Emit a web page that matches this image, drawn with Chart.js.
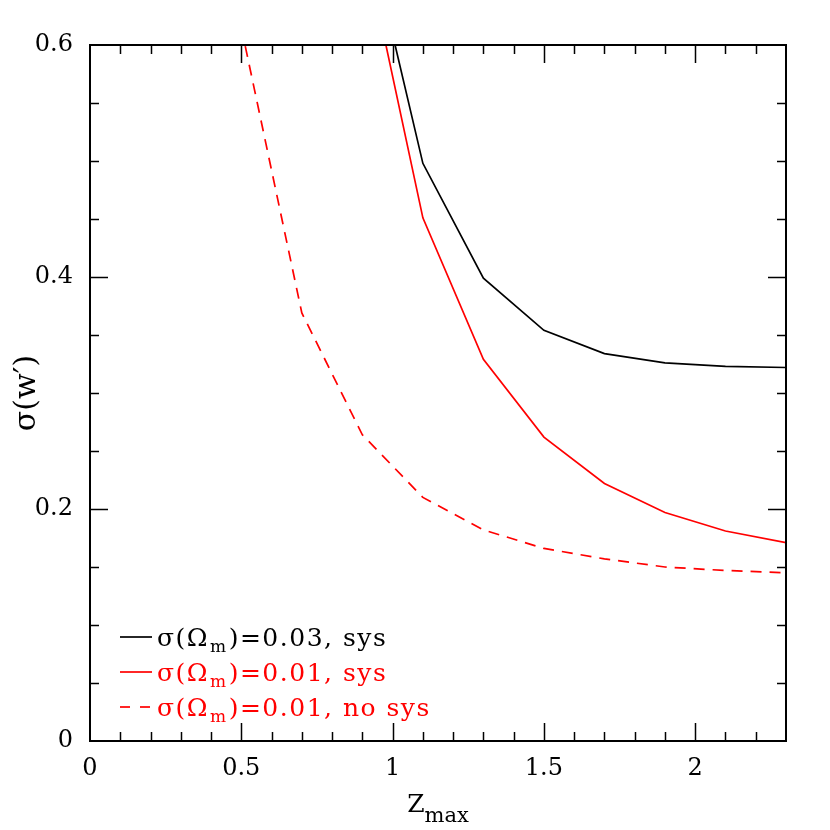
<!DOCTYPE html>
<html><head><meta charset="utf-8">
<script src="https://cdn.jsdelivr.net/npm/chart.js@4/dist/chart.umd.min.js"></script>
<style>html,body{margin:0;padding:0;background:#fff}#wrap{width:830px;height:830px}</style>
</head><body><div id="wrap"><canvas id="c" width="830" height="830"></canvas></div>
<script>
// ---- data ----
const zmax = [0.5, 0.7, 0.9, 1.1, 1.3, 1.5, 1.7, 1.9, 2.1, 2.3];
const sigmaSys003   = [null, null, 0.720, 0.498, 0.399, 0.354, 0.334, 0.326, 0.323, 0.322];
const sigmaSys001   = [null, null, 0.695, 0.451, 0.329, 0.262, 0.222, 0.197, 0.181, 0.171];
const sigmaNoSys001 = [0.615, 0.369, 0.264, 0.210, 0.182, 0.166, 0.157, 0.150, 0.147, 0.145];
const xTickValues = [0, 0.5, 1, 1.5, 2];
const yTickValues = [0, 0.2, 0.4, 0.6];
const legendPre  = ['σ(Ω', 'σ(Ω', 'σ(Ω'];
const legendSub  = ['m', 'm', 'm'];
const legendPost = [')=0.03, sys', ')=0.01, sys', ')=0.01, no sys'];
const xTitleMain = 'Z', xTitleSub = 'max';
const yTitle = 'σ(w′)';

const FONT = '"DejaVu Serif", "Liberation Serif", serif';
const RED = '#ff0000', BLACK = '#000000';

function pts(arr){ return zmax.map((x,i)=>({x:x, y:arr[i]})); }

const framePlugin = {
  id:'frame',
  afterDraw(chart){
    const ctx = chart.ctx, a = chart.chartArea;
    const xs = chart.scales.x, ys = chart.scales.y;
    ctx.save();
    ctx.strokeStyle = '#000';
    ctx.lineWidth = 2;
    ctx.strokeRect(a.left, a.top, a.right-a.left, a.bottom-a.top);
    ctx.lineWidth = 1.5;
    ctx.beginPath();
    for (let i=1;i<=22;i++){
      const v = i/10, px = Math.round(xs.getPixelForValue(v))+0.5;
      const L = (i%5===0)?18:9;
      ctx.moveTo(px,a.bottom); ctx.lineTo(px,a.bottom-L);
      ctx.moveTo(px,a.top); ctx.lineTo(px,a.top+L);
    }
    for (let i=1;i<=11;i++){
      const v = i*0.05, py = Math.round(ys.getPixelForValue(v))+0.5;
      const L = (i%4===0)?18:9;
      ctx.moveTo(a.left,py); ctx.lineTo(a.left+L,py);
      ctx.moveTo(a.right,py); ctx.lineTo(a.right-L,py);
    }
    ctx.stroke();

    // axis titles
    ctx.fillStyle = '#000';
    ctx.textBaseline = 'alphabetic';
    ctx.font = '25px ' + FONT;
    const wMain = ctx.measureText(xTitleMain).width;
    ctx.font = '21px ' + FONT;
    const wSub = ctx.measureText(xTitleSub).width;
    const cx = (a.left+a.right)/2;
    let x0 = cx - (wMain+wSub)/2;
    ctx.font = '25px ' + FONT; ctx.textAlign='left';
    ctx.fillText(xTitleMain, x0, 812);
    ctx.font = '21px ' + FONT;
    ctx.fillText(xTitleSub, x0+wMain, 822);

    ctx.save();
    ctx.translate(35, (a.top+a.bottom)/2);
    ctx.rotate(-Math.PI/2);
    ctx.font = '30px ' + FONT;
    ctx.textAlign = 'center';
    ctx.fillText(yTitle, 0, 0);
    ctx.restore();

    // legend
    const colors = [BLACK, RED, RED];
    const dashes = [[], [], [10,10]];
    const rows = [637, 672, 707];
    if ('letterSpacing' in ctx) ctx.letterSpacing = '1.5px';
    for (let k=0;k<3;k++){
      const y = rows[k];
      ctx.strokeStyle = colors[k]; ctx.lineWidth = 1.7;
      ctx.setLineDash(dashes[k]);
      ctx.beginPath(); ctx.moveTo(120, y); ctx.lineTo(152, y); ctx.stroke();
      ctx.setLineDash([]);
      ctx.fillStyle = colors[k];
      ctx.textAlign = 'left';
      let x = 157;
      ctx.font = '25px ' + FONT;
      ctx.fillText(legendPre[k], x, y+9); x += ctx.measureText(legendPre[k]).width;
      ctx.font = '17px ' + FONT;
      ctx.fillText(legendSub[k], x+1, y+15); x += ctx.measureText(legendSub[k]).width+2;
      ctx.font = '25px ' + FONT;
      ctx.fillText(legendPost[k], x, y+9);
    }
    if ('letterSpacing' in ctx) ctx.letterSpacing = '0px';
    ctx.restore();
  }
};

new Chart(document.getElementById('c'), {
  type:'line',
  data:{ datasets:[
    {label:'σ(Ωm)=0.03, sys', data:pts(sigmaSys003), borderColor:BLACK, borderWidth:1.7, pointRadius:0, tension:0, fill:false},
    {label:'σ(Ωm)=0.01, sys', data:pts(sigmaSys001), borderColor:RED, borderWidth:1.7, pointRadius:0, tension:0, fill:false},
    {label:'σ(Ωm)=0.01, no sys', data:pts(sigmaNoSys001), borderColor:RED, borderWidth:1.7, borderDash:[11,8], pointRadius:0, tension:0, fill:false}
  ]},
  options:{
    responsive:false, animation:false, devicePixelRatio:1,
    layout:{padding:{left:0, top:45, right:44, bottom:0}},
    plugins:{legend:{display:false}, tooltip:{enabled:false}},
    scales:{
      x:{type:'linear', min:0, max:2.3, position:'bottom',
         grid:{display:false, drawTicks:false}, border:{display:false},
         ticks:{color:'#000', font:{family:FONT, size:24}, padding:13, maxRotation:0,
                callback:v=>String(v)},
         afterBuildTicks:s=>{ s.ticks = xTickValues.map(v=>({value:v})); },
         afterFit:s=>{ s.height = 89; }},
      y:{type:'linear', min:0, max:0.6,
         grid:{display:false, drawTicks:false}, border:{display:false},
         ticks:{color:'#000', font:{family:FONT, size:24}, padding:17,
                callback:v=>String(v)},
         afterBuildTicks:s=>{ s.ticks = yTickValues.map(v=>({value:v})); },
         afterFit:s=>{ s.width = 90; }}
    }
  },
  plugins:[framePlugin]
});
</script></body></html>
